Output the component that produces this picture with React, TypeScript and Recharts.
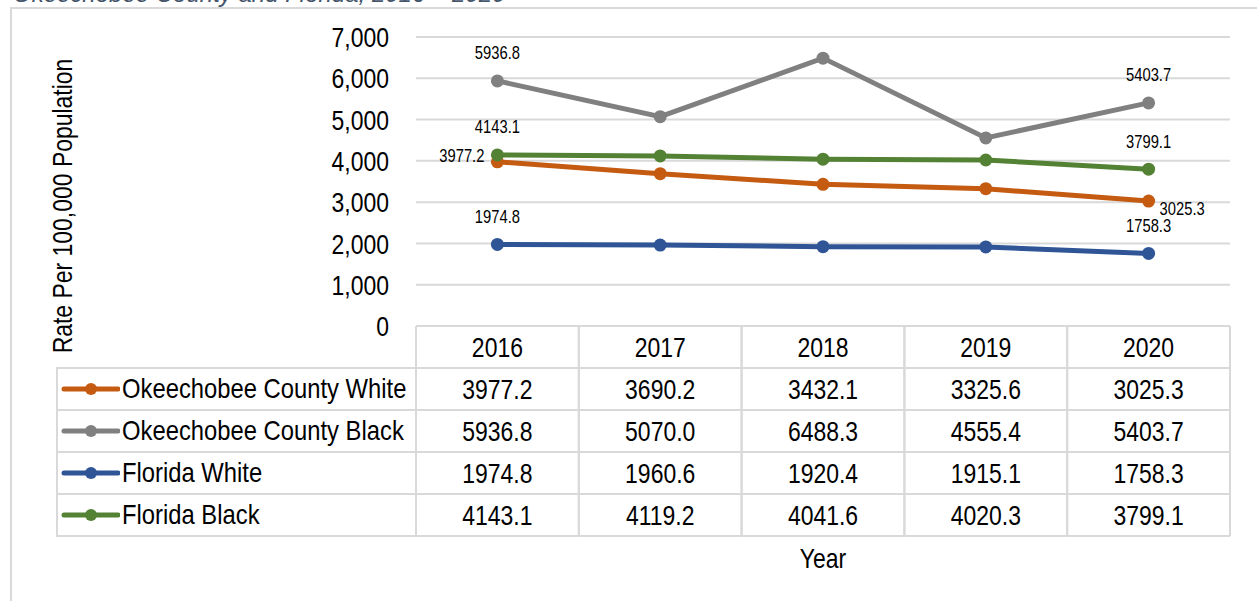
import React from "react";
import { LineChart, Line, XAxis, YAxis, CartesianGrid, LabelList } from "recharts";

const years = ["2016", "2017", "2018", "2019", "2020"];
const okeechobeeWhite = [3977.2, 3690.2, 3432.1, 3325.6, 3025.3];
const okeechobeeBlack = [5936.8, 5070.0, 6488.3, 4555.4, 5403.7];
const floridaWhite = [1974.8, 1960.6, 1920.4, 1915.1, 1758.3];
const floridaBlack = [4143.1, 4119.2, 4041.6, 4020.3, 3799.1];
const yTicks = [0, 1000, 2000, 3000, 4000, 5000, 6000, 7000];

// where the end labels sit, per series (first point, last point)
const series = [
  { key: "okWhite", name: "Okeechobee County White", values: okeechobeeWhite, color: "#C55A11", first: "left", last: "rightBelow" },
  { key: "okBlack", name: "Okeechobee County Black", values: okeechobeeBlack, color: "#808080", first: "above", last: "above" },
  { key: "flWhite", name: "Florida White", values: floridaWhite, color: "#2F5597", first: "above", last: "above" },
  { key: "flBlack", name: "Florida Black", values: floridaBlack, color: "#548235", first: "above", last: "above" },
];

const data = years.map((year, i) => {
  const row: any = { year };
  series.forEach((s) => (row[s.key] = s.values[i]));
  return row;
});

const W = 1257;
const H = 601;
const PLOT_LEFT = 416;
const PLOT_RIGHT = 1230;
const PLOT_TOP = 37;
const PLOT_BOTTOM = 326;
const COL_W = (PLOT_RIGHT - PLOT_LEFT) / years.length;
const ROW_H = 42;
const LEGEND_LEFT = 56;
// no Arial Narrow here, so squeeze Liberation Sans horizontally
const FONT = "'Liberation Sans', Arial, sans-serif";
const NARROW = 0.82;
const GRID = "#D9D9D9";

const Narrow = ({ x, y, size, anchor = "middle", rotate = 0, children }: any) => (
  <text
    transform={`translate(${x},${y}) rotate(${rotate}) scale(${NARROW},1)`}
    x={0}
    y={0}
    dy="0.36em"
    textAnchor={anchor}
    fontSize={size}
    fill="#000"
    fontFamily={FONT}
  >
    {children}
  </text>
);

const TableTick = (props: any) => {
  const { x, y, payload } = props;
  const i = payload.index;
  const left = x - COL_W / 2;
  const right = x + COL_W / 2;
  const bottom = y + ROW_H * (series.length + 1);
  return (
    <g>
      <line x1={left} x2={left} y1={y} y2={bottom} stroke={GRID} strokeWidth={2} />
      <line x1={right} x2={right} y1={y} y2={bottom} stroke={GRID} strokeWidth={2} />
      {series.map((s, r) => (
        <line key={s.key} x1={left} x2={right} y1={y + ROW_H * (r + 1)} y2={y + ROW_H * (r + 1)} stroke={GRID} strokeWidth={2} />
      ))}
      <line x1={left} x2={right} y1={bottom} y2={bottom} stroke={GRID} strokeWidth={2} />
      <Narrow x={x} y={y + ROW_H / 2} size={28}>
        {payload.value}
      </Narrow>
      {series.map((s, r) => (
        <Narrow key={s.key} x={x} y={y + ROW_H * (r + 1.5)} size={28}>
          {s.values[i].toFixed(1)}
        </Narrow>
      ))}
    </g>
  );
};

const YTick = (props: any) => {
  const { x, y, payload } = props;
  return (
    <Narrow x={x} y={y} size={28} anchor="end">
      {Number(payload.value).toLocaleString("en-US")}
    </Narrow>
  );
};

const makeLabel = (s: any) => (props: any) => {
  const { x, y, value, index } = props;
  const last = years.length - 1;
  if (index !== 0 && index !== last) return null;
  const pos = index === 0 ? s.first : s.last;
  let tx = x;
  let ty = y - 28;
  let anchor = "middle";
  if (pos === "left") {
    tx = x - 13;
    ty = y - 6;
    anchor = "end";
  } else if (pos === "rightBelow") {
    tx = x + 11;
    ty = y + 7;
    anchor = "start";
  }
  return (
    <Narrow x={tx} y={ty} size={18} anchor={anchor}>
      {Number(value).toFixed(1)}
    </Narrow>
  );
};

const YLabel = () => (
  <Narrow x={62} y={206} size={28} rotate={-90}>
    Rate Per 100,000 Population
  </Narrow>
);

const XLabel = (props: any) => {
  const { viewBox } = props;
  return (
    <Narrow x={viewBox.x + viewBox.width / 2} y={558} size={28}>
      Year
    </Narrow>
  );
};

export default function App() {
  return (
    <div style={{ position: "absolute", left: 0, top: 0, width: W, height: H, overflow: "hidden", background: "#fff" }}>
      <div
        style={{
          position: "absolute",
          left: 10,
          top: 7,
          width: W + 20,
          height: H + 20,
          borderLeft: `2px solid ${GRID}`,
          borderTop: `2px solid ${GRID}`,
        }}
      />
      <div
        style={{
          position: "absolute",
          left: 13,
          top: -18,
          fontFamily: FONT,
          fontStyle: "italic",
          fontSize: 24,
          lineHeight: "24px",
          color: "#44546A",
          whiteSpace: "nowrap",
        }}
      >
        Okeechobee County and Florida, 2016 – 2020
      </div>
      <div style={{ position: "absolute", left: 0, top: 0 }}>
        <LineChart width={W} height={H} data={data} margin={{ top: PLOT_TOP, right: W - PLOT_RIGHT, bottom: 25, left: 0 }}>
          <CartesianGrid vertical={false} stroke={GRID} strokeWidth={2} />
          <XAxis
            dataKey="year"
            scale="point"
            padding={{ left: COL_W / 2, right: COL_W / 2 }}
            height={H - 25 - PLOT_BOTTOM}
            axisLine={false}
            tickLine={false}
            tickSize={0}
            tickMargin={0}
            interval={0}
            tick={<TableTick />}
            label={<XLabel />}
          />
          <YAxis
            width={PLOT_LEFT}
            domain={[0, 7000]}
            ticks={yTicks}
            axisLine={false}
            tickLine={false}
            tickSize={27}
            tickMargin={0}
            tick={<YTick />}
            label={<YLabel />}
          />
          {series.map((s) => (
            <Line
              key={s.key}
              dataKey={s.key}
              name={s.name}
              stroke={s.color}
              strokeWidth={5}
              dot={{ r: 6.5, fill: s.color, stroke: s.color, strokeWidth: 0 }}
              activeDot={false}
              isAnimationActive={false}
            >
              <LabelList dataKey={s.key} content={makeLabel(s)} />
            </Line>
          ))}
        </LineChart>
      </div>
      <div
        style={{
          position: "absolute",
          left: LEGEND_LEFT,
          top: PLOT_BOTTOM + ROW_H - 1,
          width: PLOT_LEFT - LEGEND_LEFT,
          borderLeft: `2px solid ${GRID}`,
          borderTop: `2px solid ${GRID}`,
          fontFamily: FONT,
          fontSize: 28,
        }}
      >
        {series.map((s) => (
          <div
            key={s.key}
            style={{
              height: ROW_H - 2,
              borderBottom: `2px solid ${GRID}`,
              display: "flex",
              alignItems: "center",
              whiteSpace: "nowrap",
            }}
          >
            <svg width={60} height={20} style={{ marginLeft: 2, flex: "none" }}>
              <line x1={4} x2={58} y1={10} y2={10} stroke={s.color} strokeWidth={5} strokeLinecap="round" />
              <circle cx={31} cy={10} r={6} fill={s.color} />
            </svg>
            <span style={{ display: "inline-block", marginLeft: 2, transform: "scaleX(0.85)", transformOrigin: "left center" }}>
              {s.name}
            </span>
          </div>
        ))}
      </div>
    </div>
  );
}
